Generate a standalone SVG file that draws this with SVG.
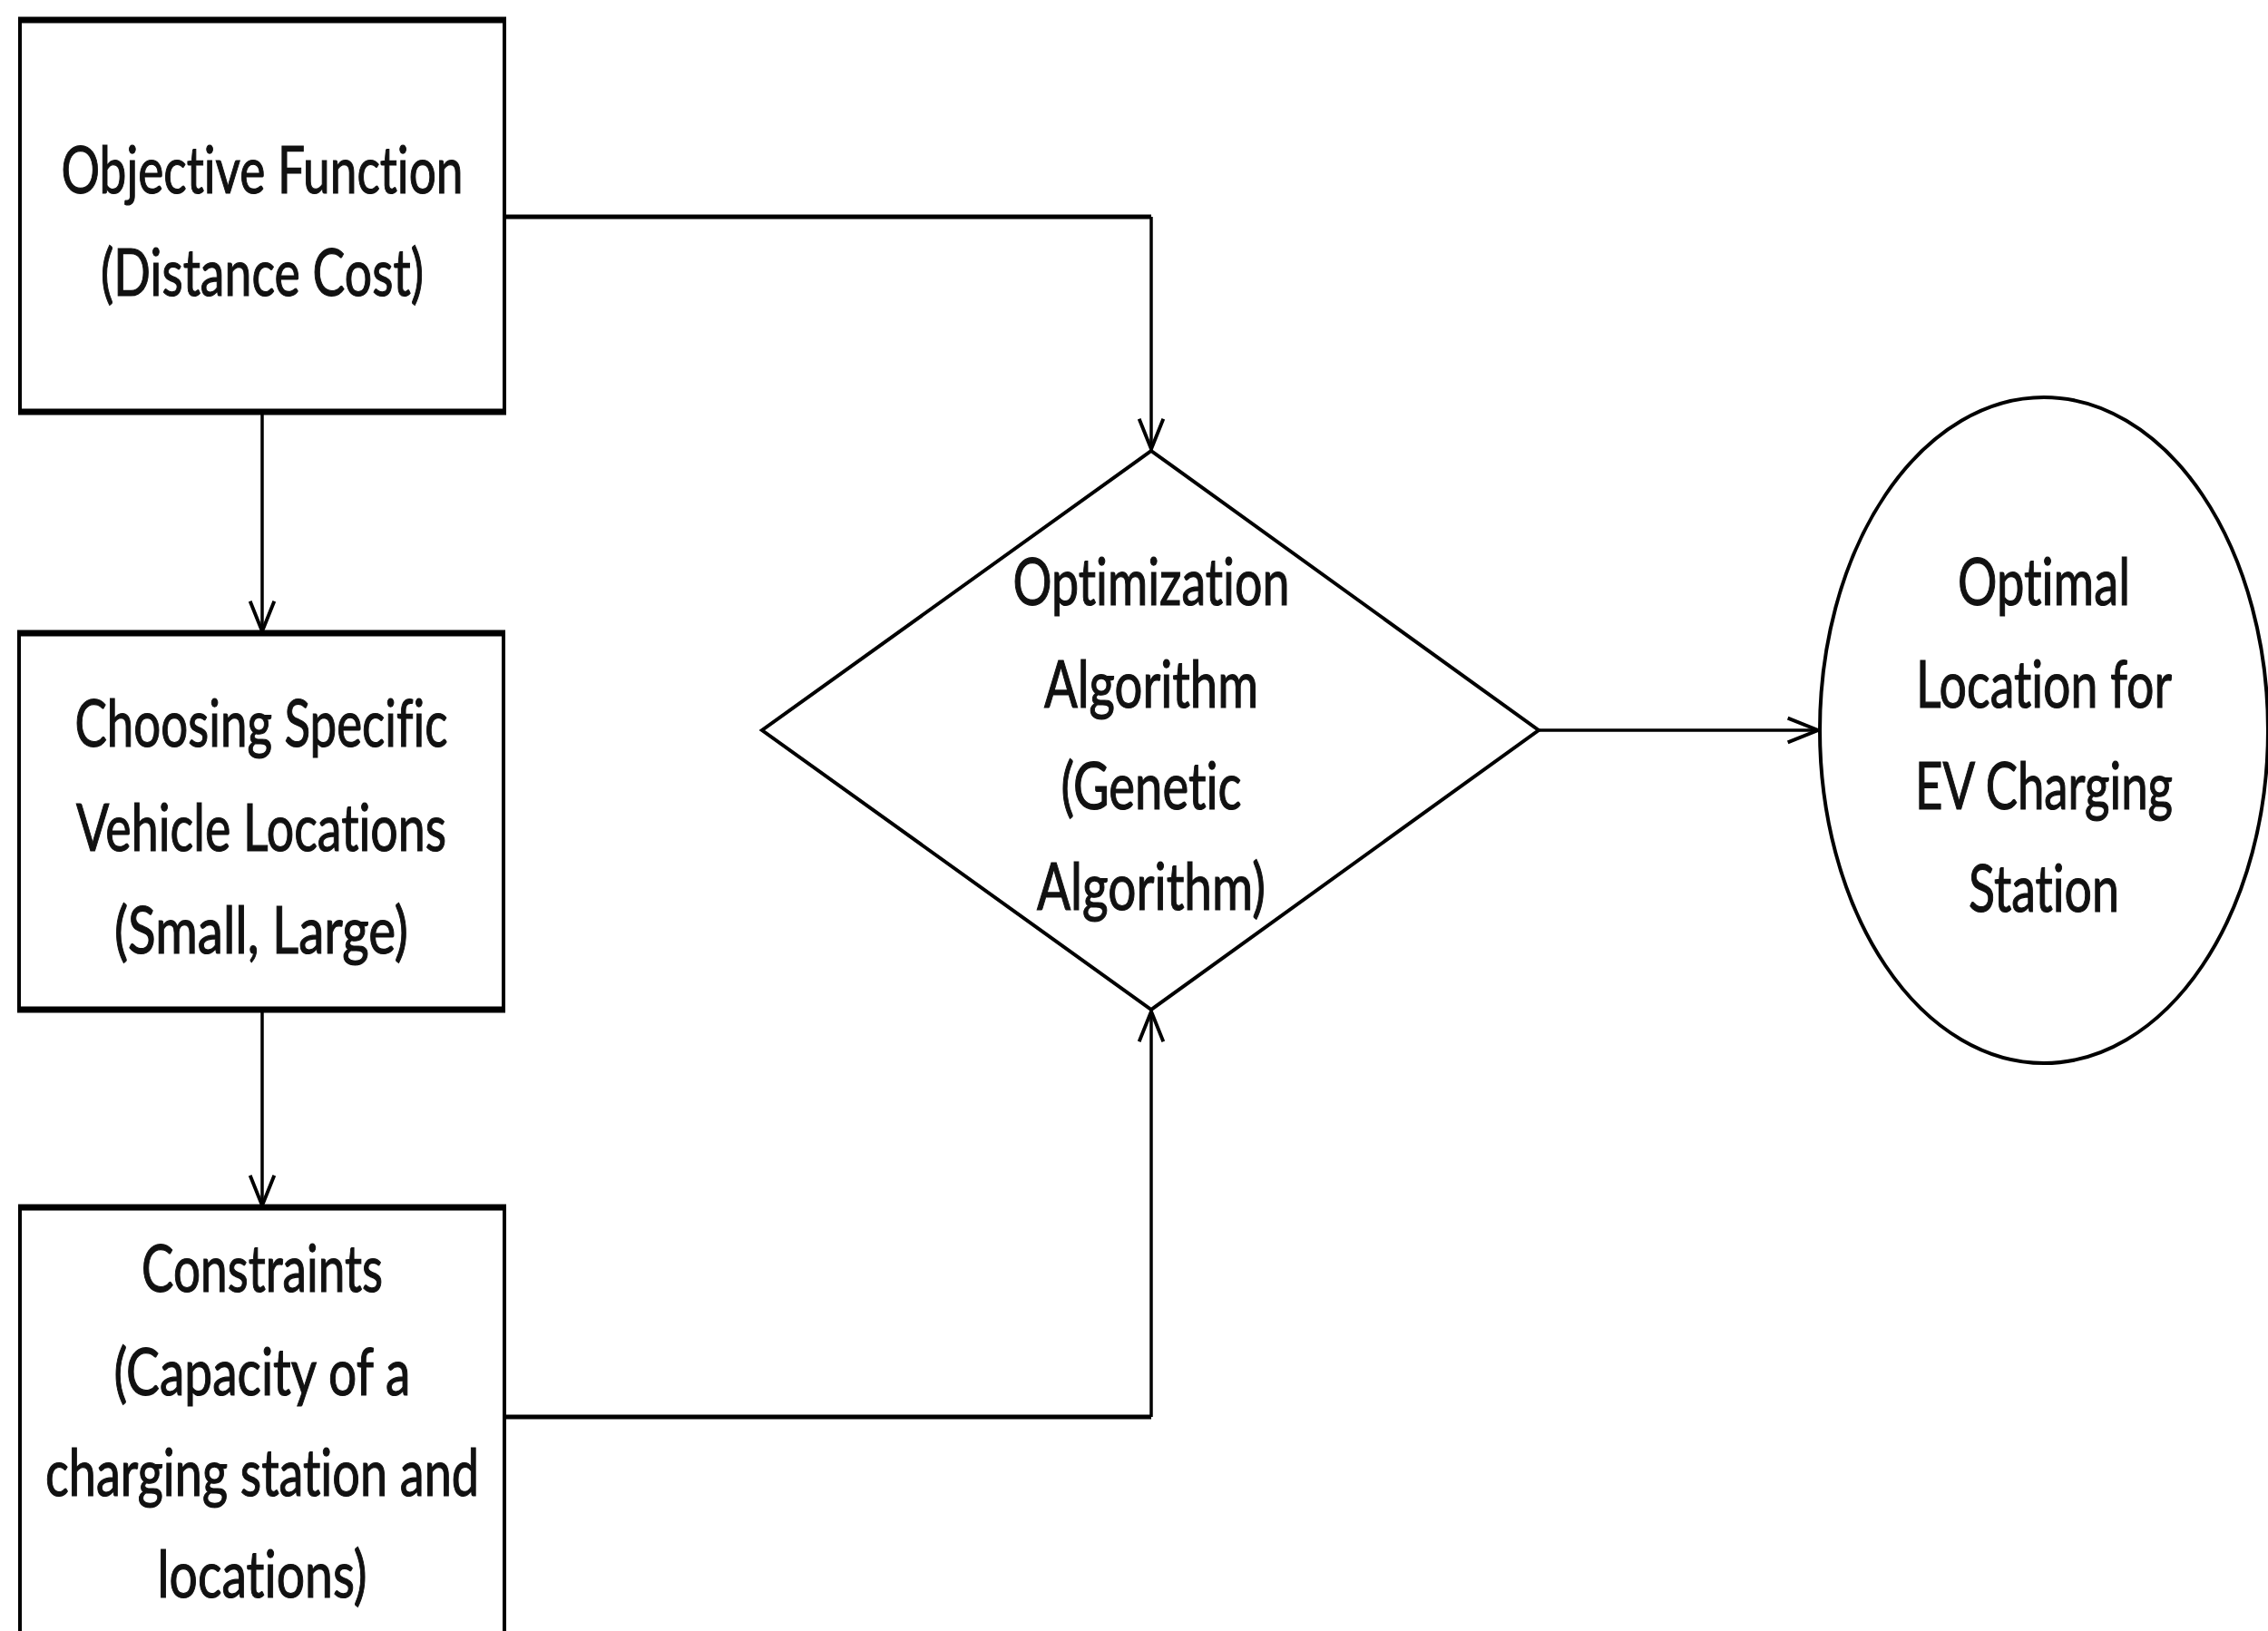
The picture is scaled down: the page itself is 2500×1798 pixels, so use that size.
<svg xmlns="http://www.w3.org/2000/svg" width="2500" height="1798" viewBox="0 0 2500 1798">
<style>
.box{fill:#fff;stroke:#000;stroke-width:4}
.hedge{fill:none;stroke:#000;stroke-width:7}
.shape{fill:#fff;stroke:#000;stroke-width:4}
.con{fill:none;stroke:#000;stroke-width:3.5}
.conh{fill:none;stroke:#000;stroke-width:5}
.t{font-family:Lato,"Open Sans","Liberation Sans",sans-serif;font-size:72px;fill:#111;stroke:#111;stroke-width:1.2;text-anchor:middle;font-variant-ligatures:none;font-feature-settings:"liga" 0}
</style>
<defs>
<marker id="arr" markerUnits="userSpaceOnUse" markerWidth="40" markerHeight="40" viewBox="-32 -14 36 28" refX="0" refY="0" orient="auto">
<path d="M-30,-12 L0,0 L-30,12" fill="none" stroke="#000" stroke-width="3.5"/>
</marker>
</defs>
<rect width="2500" height="1798" fill="#fff"/>
<g id="connectors">
<path class="conh" d="M556,239 H1269"/>
<path class="con" d="M1269,239 V495" marker-end="url(#arr)"/>
<path class="con" d="M289,454 V696" marker-end="url(#arr)"/>
<path class="con" d="M289,1113 V1329" marker-end="url(#arr)"/>
<path class="conh" d="M556,1562 H1269"/>
<path class="con" d="M1269,1562 V1115" marker-end="url(#arr)"/>
<path class="con" d="M1696,805 H2004" marker-end="url(#arr)"/>
</g>
<g id="node-objective">
<rect class="box" x="22" y="22" width="534" height="432"/>
<path class="hedge" d="M20,22 H558 M20,454 H558"/>
<text class="t" x="289" y="213" textLength="443" lengthAdjust="spacingAndGlyphs">Objective Function</text>
<text class="t" x="289" y="326" textLength="356" lengthAdjust="spacingAndGlyphs">(Distance Cost)</text>
</g>
<g id="node-choosing">
<rect class="box" x="21" y="698" width="534" height="415"/>
<path class="hedge" d="M19,698 H557 M19,1113 H557"/>
<text class="t" x="288" y="823" textLength="411" lengthAdjust="spacingAndGlyphs">Choosing Specific</text>
<text class="t" x="288" y="938" textLength="408" lengthAdjust="spacingAndGlyphs">Vehicle Locations</text>
<text class="t" x="288" y="1051" textLength="324" lengthAdjust="spacingAndGlyphs">(Small, Large)</text>
</g>
<g id="node-constraints">
<rect class="box" x="22" y="1331" width="534" height="480"/>
<path class="hedge" d="M20,1331 H558"/>
<text class="t" x="289" y="1424" textLength="266" lengthAdjust="spacingAndGlyphs">Constraints</text>
<text class="t" x="289" y="1538" textLength="327" lengthAdjust="spacingAndGlyphs">(Capacity of a</text>
<text class="t" x="289" y="1649" textLength="478" lengthAdjust="spacingAndGlyphs">charging station and</text>
<text class="t" x="289" y="1761" textLength="231" lengthAdjust="spacingAndGlyphs">locations)</text>
</g>
<g id="node-optimization">
<polygon class="shape" points="1269,497 1696,805 1269,1113 840,805"/>
<text class="t" x="1269" y="667" textLength="305" lengthAdjust="spacingAndGlyphs">Optimization</text>
<text class="t" x="1269" y="780" textLength="236" lengthAdjust="spacingAndGlyphs">Algorithm</text>
<text class="t" x="1269" y="892" textLength="199" lengthAdjust="spacingAndGlyphs">(Genetic</text>
<text class="t" x="1269" y="1003" textLength="252" lengthAdjust="spacingAndGlyphs">Algorithm)</text>
</g>
<g id="node-optimal">
<ellipse class="shape" cx="2253" cy="805" rx="247" ry="367"/>
<text class="t" x="2253" y="667" textLength="190" lengthAdjust="spacingAndGlyphs">Optimal</text>
<text class="t" x="2253" y="780" textLength="282" lengthAdjust="spacingAndGlyphs">Location for</text>
<text class="t" x="2253" y="892" textLength="284" lengthAdjust="spacingAndGlyphs">EV Charging</text>
<text class="t" x="2253" y="1005" textLength="166" lengthAdjust="spacingAndGlyphs">Station</text>
</g>
</svg>
